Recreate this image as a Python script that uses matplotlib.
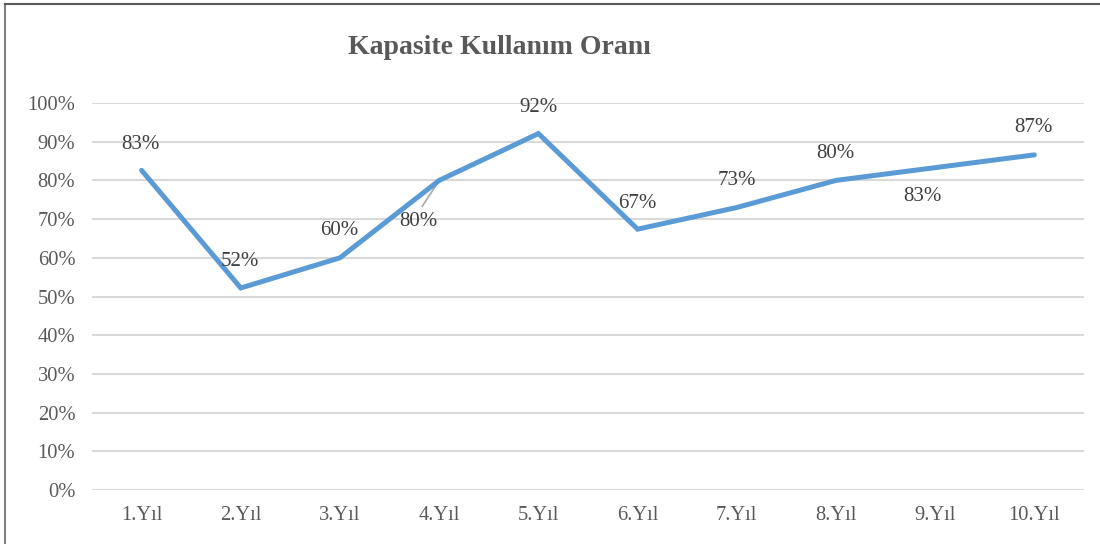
import matplotlib
matplotlib.use("Agg")
import matplotlib.pyplot as plt
from matplotlib.lines import Line2D
from matplotlib.ticker import PercentFormatter

categories = ["1.Yıl", "2.Yıl", "3.Yıl", "4.Yıl", "5.Yıl", "6.Yıl", "7.Yıl", "8.Yıl", "9.Yıl", "10.Yıl"]
values = [0.826, 0.522, 0.60, 0.80, 0.921, 0.674, 0.73, 0.80, 0.833, 0.866]
labels = ["83%", "52%", "60%", "80%", "92%", "67%", "73%", "80%", "83%", "87%"]
yticks = [0, 0.1, 0.2, 0.3, 0.4, 0.5, 0.6, 0.7, 0.8, 0.9, 1.0]
title = "Kapasite Kullanım Oranı"

plt.rcParams['font.family'] = ['Liberation Serif', 'DejaVu Serif']
txt = '#595959'

fig = plt.figure(figsize=(11, 5.44), dpi=100)
ax = fig.add_axes([92/1100, 1-490/544, 992/1100, 387/544])
x = list(range(1, len(categories)+1))
ax.plot(x, values, color='#5B9BD5', lw=3.6, solid_joinstyle='miter', solid_capstyle='round', zorder=3)
ax.set_xlim(0.5, len(categories)+0.5)
ax.set_ylim(0, 1)
ax.set_yticks(yticks)
ax.yaxis.set_major_formatter(PercentFormatter(1.0, decimals=0))
ax.set_xticks(x)
ax.set_xticklabels(categories)
ax.tick_params(axis='both', length=0, labelsize=14.8, colors=txt)
ax.tick_params(axis='y', pad=12)
ax.tick_params(axis='x', pad=11.5)
ax.grid(axis='y', color='#d9d9d9', lw=1.5, zorder=0)
ax.set_axisbelow(True)
for s in ax.spines.values():
    s.set_visible(False)

# label offsets in pixels (dx, dy upward)
offs = [(-1, 26), (-1, 26), (-1, 27), (-21, -41), (0, 26), (0, 26), (0, 27), (-1, 27), (-13, -29), (-1, 27)]
for i, (xi, v, lab) in enumerate(zip(x, values, labels)):
    dx, dy = offs[i]
    ax.annotate(lab, (xi, v), xytext=(dx*0.72, dy*0.72), textcoords='offset points',
                ha='center', va='center', fontsize=15, color='#404040', zorder=4)

# leader line for 4th label
ax.annotate('', (4, values[3]), xytext=(-17*0.72, -26*0.72), textcoords='offset points',
            arrowprops=dict(arrowstyle='-', color='#a6a6a6', lw=1.2, shrinkA=0, shrinkB=1), zorder=2)

fig.text(499/1100, 1-48/544, title, ha='center', va='center', fontsize=20,
         fontweight='bold', color=txt)

# outer frame (top and left edges)
fig.add_artist(Line2D([5/1100, 5/1100], [0, 1-4/544], transform=fig.transFigure, color='#7f7f7f', lw=1.5))
fig.add_artist(Line2D([5/1100, 1], [1-4/544, 1-4/544], transform=fig.transFigure, color='#595959', lw=1.5))

fig.savefig('out.png', dpi=100)
